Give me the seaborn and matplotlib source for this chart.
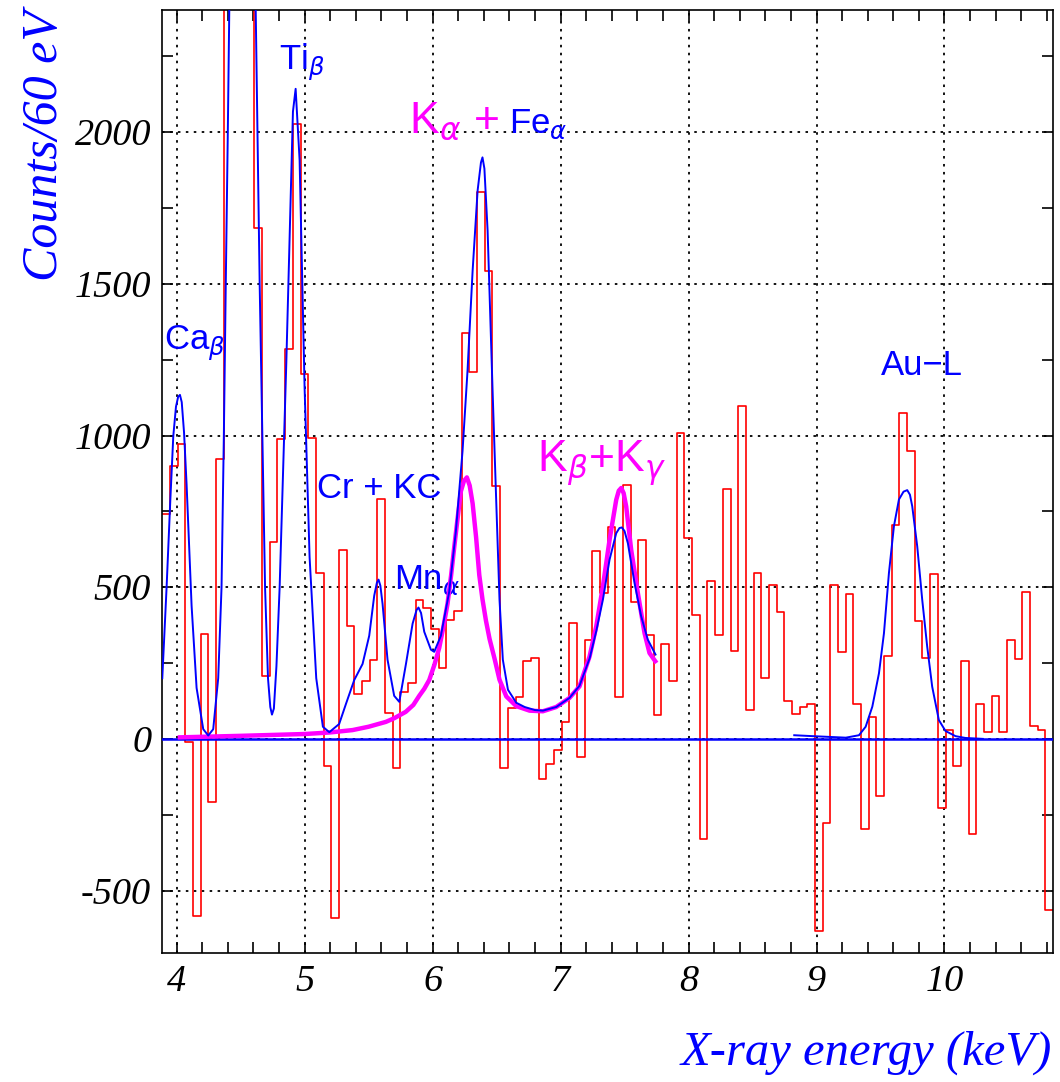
import matplotlib
matplotlib.use('Agg')
import matplotlib.pyplot as plt
from matplotlib.ticker import MultipleLocator
import numpy as np
import pandas as pd
import seaborn as sns

plt.rcParams['axes.unicode_minus'] = False
plt.rcParams['mathtext.fontset'] = 'dejavusans'

#%%
# measured spectrum, 60 eV bins, read off the picture (bins 8-11 run off the top)
bin_start = 3.888
bin_width = 0.06
counts = [740, 900, 972, -10, -585, 347, -208, 921, 3200, 5200,
          5600, 3000, 1683, 206, 649, 988, 1284, 2026, 1204, 992,
          548, -91, -591, 623, 371, 149, 192, 260, 790, 85,
          -97, 155, 185, 458, 433, 363, 232, 393, 421, 1339,
          1208, 1804, 1542, 835, -97, 101, 139, 256, 266, -133,
          -83, -36, 54, 383, -60, 327, 619, 482, 700, 139,
          837, 452, 655, 341, 79, 312, 192, 1008, 663, 407,
          -329, 522, 343, 825, 290, 1099, 95, 548, 202, 508,
          417, 125, 81, 105, 115, -635, -278, 508, 286, 478,
          115, -298, 71, -187, 272, 706, 1073, 948, 387, 266,
          542, -228, 28, -91, 256, -312, 115, 24, 141, 24,
          327, 262, 484, 44, 28, -564]

# total fit (blue), low energy part
fit_e = [3.888, 3.922, 3.95, 3.974, 3.995, 4.012, 4.026, 4.04, 4.058, 4.078,
         4.117, 4.156, 4.208, 4.247, 4.286, 4.325, 4.351, 4.369, 4.384, 4.40,
         4.42, 4.51, 4.605, 4.618, 4.649, 4.670, 4.691, 4.714, 4.732, 4.745,
         4.76, 4.78, 4.805, 4.857, 4.909, 4.930, 4.961, 5.0, 5.039, 5.091,
         5.143, 5.193, 5.27, 5.323, 5.388, 5.453, 5.505, 5.544, 5.565, 5.578,
         5.592, 5.609, 5.648, 5.70, 5.74, 5.792, 5.844, 5.875, 5.89, 5.91,
         5.935, 5.987, 6.013, 6.065, 6.13, 6.182, 6.234, 6.273, 6.313, 6.352,
         6.378, 6.39, 6.405, 6.43, 6.469, 6.497, 6.523, 6.549, 6.589, 6.654,
         6.72, 6.80, 6.862, 6.966, 7.07, 7.148, 7.227, 7.279, 7.331, 7.383,
         7.435, 7.46, 7.479, 7.50, 7.526, 7.578, 7.63, 7.682, 7.742]
fit_c = [200, 503, 780, 998, 1095, 1128, 1134, 1110, 1010, 838,
         439, 168, 32, 11, 32, 200, 500, 998, 1498, 2000,
         2700, 4500, 2700, 2403, 1498, 998, 500, 200, 105, 80,
         100, 240, 500, 1238, 2068, 2143, 1908, 1158, 599, 200,
         40, 22, 49, 115, 194, 247, 340, 472, 515, 525,
         505, 446, 261, 142, 122, 247, 380, 425, 433, 415,
         353, 294, 287, 340, 485, 684, 948, 1213, 1544, 1808,
         1900, 1917, 1880, 1676, 1147, 788, 459, 261, 162, 119,
         105, 95, 93, 105, 135, 175, 265, 355, 459, 591,
         678, 695, 697, 685, 645, 514, 404, 327, 278]

# total fit (blue), Au-L region
au_e = [8.826, 8.969, 9.229, 9.332, 9.384, 9.436, 9.488, 9.527, 9.566, 9.605,
        9.644, 9.68, 9.709, 9.73, 9.748, 9.787, 9.826, 9.865, 9.904, 9.956,
        10.008, 10.086, 10.164, 10.3]
au_c = [12, 9, 4, 12, 40, 106, 216, 348, 547, 701,
        789, 815, 820, 805, 767, 635, 459, 304, 172, 62,
        26, 9, 3, 0]

# kaonic K-series fit (magenta)
k_e = [4.026, 4.5, 5.0, 5.195, 5.375, 5.5, 5.635, 5.7, 5.79, 5.85,
       5.896, 5.935, 5.974, 6.015, 6.052, 6.085, 6.117, 6.145, 6.169, 6.195,
       6.221, 6.245, 6.268, 6.29, 6.313, 6.34, 6.365, 6.39, 6.417, 6.445,
       6.484, 6.523, 6.576, 6.654, 6.758, 6.862, 6.966, 7.07, 7.148, 7.227,
       7.279, 7.331, 7.383, 7.435, 7.455, 7.474, 7.493, 7.513, 7.552, 7.604,
       7.656, 7.695, 7.74]
k_c = [5, 10, 16, 21, 29, 40, 56, 68, 89, 112,
       142, 165, 194, 245, 300, 370, 446, 540, 631, 725,
       816, 850, 862, 835, 776, 665, 540, 460, 390, 330,
       265, 195, 140, 108, 93, 91, 105, 135, 173, 272,
       371, 503, 656, 788, 818, 827, 810, 766, 623, 481,
       349, 283, 256]

#%%
n_bins = len(counts)
edges = bin_start + bin_width * np.arange(n_bins + 1)
hist_df = pd.DataFrame({'energy': edges[:-1] + bin_width / 2, 'counts': counts})

fig = plt.figure(figsize=(10.6, 10.82), dpi=100)
ax = fig.add_axes([0.1531, 0.1192, 0.8403, 0.8716])

sns.histplot(data=hist_df, x='energy', weights='counts', bins=list(edges),
             element='step', fill=False, color='#ff0000', linewidth=1.2, ax=ax)
ax.axhline(0, color='#0000ff', linewidth=1.8, zorder=3)
sns.lineplot(x=k_e, y=k_c, sort=False, estimator=None, color='#ff00ff',
             linewidth=3.2, ax=ax, zorder=4)
sns.lineplot(x=fit_e, y=fit_c, sort=False, estimator=None, color='#0000ff',
             linewidth=1.4, ax=ax, zorder=5)
sns.lineplot(x=au_e, y=au_c, sort=False, estimator=None, color='#0000ff',
             linewidth=1.4, ax=ax, zorder=5)

ax.set_xlim(edges[0], edges[-1])
ax.set_ylim(-706, 2403)
ax.set_xlabel('')
ax.set_ylabel('')

ax.xaxis.set_major_locator(MultipleLocator(1))
ax.xaxis.set_minor_locator(MultipleLocator(0.2))
ax.yaxis.set_major_locator(MultipleLocator(500))
ax.yaxis.set_minor_locator(MultipleLocator(250))
ax.tick_params(which='both', direction='in', top=True, right=True,
               length=8, width=1.2, labelsize=27.5, pad=8)
for lab in ax.get_xticklabels() + ax.get_yticklabels():
    lab.set_family('Liberation Serif')
    lab.set_style('italic')
for sp in ax.spines.values():
    sp.set_linewidth(1.2)
ax.set_axisbelow(True)
ax.grid(True, which='major', color='black', linestyle=(0, (1.4, 3.0)), linewidth=1.3)

# peak labels
blue_kw = dict(color='#0000ff', fontsize=25, family='Liberation Sans', va='baseline', ha='left')
mag_kw = dict(color='#ff00ff', fontsize=32, family='Liberation Sans', va='baseline', ha='left')
ax.text(3.904, 1283, r'Ca$_\beta$', **blue_kw)
ax.text(4.802, 2206, r'Ti$_\beta$', **blue_kw)
ax.text(5.099, 795, 'Cr + KC', **blue_kw)
ax.text(5.701, 495, r'Mn$_\alpha$', **blue_kw)
ax.text(5.818, 1998, r'K$_\alpha$ +', **mag_kw)
ax.text(6.599, 1998, r'Fe$_\alpha$', **blue_kw)
ax.text(6.818, 880, r'K$_\beta$+K$_\gamma$', **mag_kw)
ax.text(9.505, 1198, 'Au\u2212L', **blue_kw)

fig.text(0.042, 0.991, 'Counts/60 eV', rotation=90, ha='center', va='top',
         color='#0000ff', fontsize=36, family='Liberation Serif', style='italic')
fig.text(0.9925, 0.0157, 'X-ray energy (keV)', ha='right', va='baseline',
         color='#0000ff', fontsize=35, family='Liberation Serif', style='italic')

fig.savefig('out.png', dpi=100)
